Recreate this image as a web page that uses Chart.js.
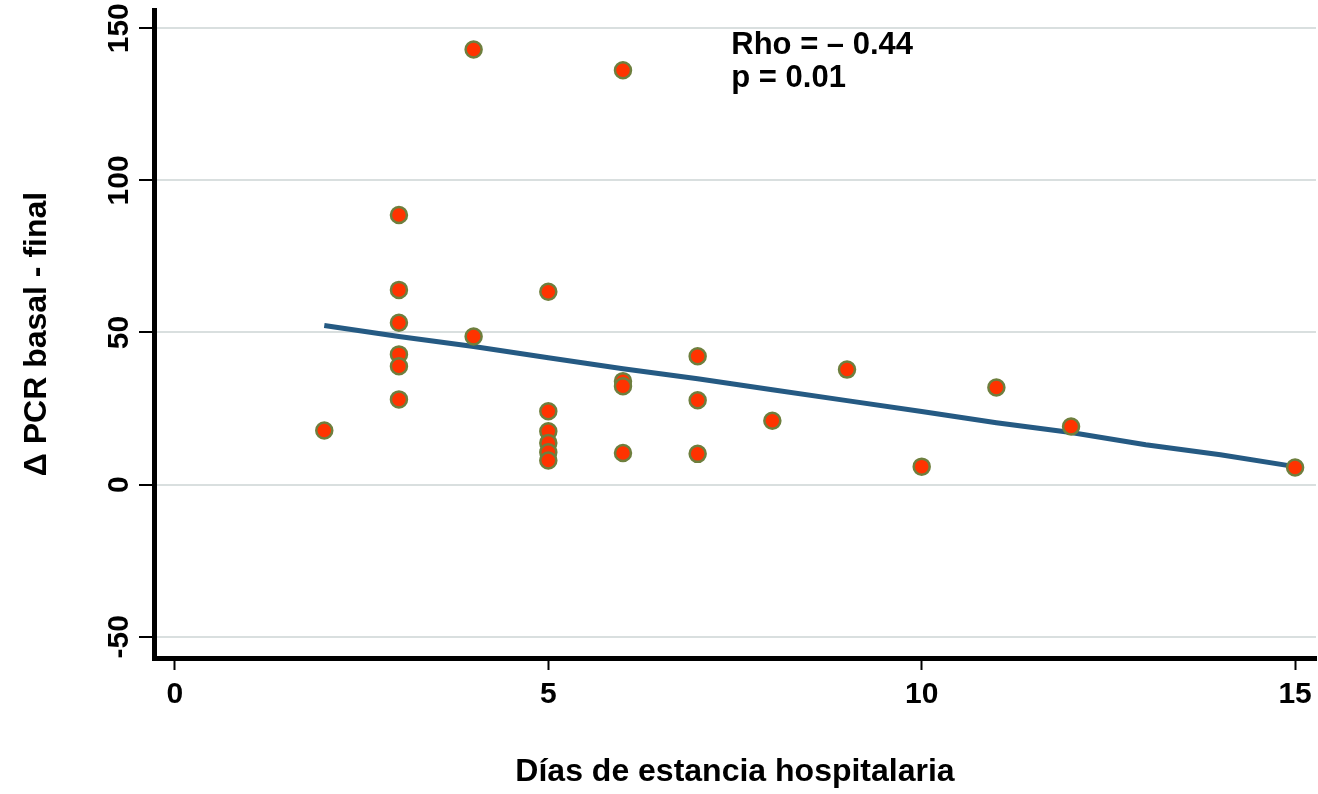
<!DOCTYPE html>
<html>
<head>
<meta charset="utf-8">
<script src="https://cdn.jsdelivr.net/npm/chart.js@4.4.1/dist/chart.umd.min.js"></script>
<style>
  html, body { margin: 0; padding: 0; background: #fff; }
  canvas { display: block; }
</style>
</head>
<body>
<canvas id="grafico" width="1318" height="794"></canvas>
<script>
// Días de estancia y caída de PCR (basal - final) por paciente
const dias = [2, 3, 3, 3, 3, 3, 3, 4, 4, 5, 5, 5, 5, 5, 5, 6, 6, 6, 6, 7, 7, 7, 8, 9, 10, 11, 12, 15];
const deltaPCR = [17.8, 88.6, 64.0, 53.2, 42.8, 38.9, 28.0, 143.0, 48.7, 63.4, 24.1, 17.5, 13.7, 10.6, 7.9,
                  136.2, 34.0, 32.3, 10.4, 42.2, 27.7, 10.1, 21.0, 37.8, 5.9, 31.9, 19.1, 5.6];

// Curva suavizada
const diasAjuste = [2, 3, 4, 5, 6, 7, 8, 9, 10, 11, 12, 13, 14, 15];
const ajuste = [52.3, 48.7, 45.4, 41.7, 38.1, 34.8, 31.2, 27.6, 24.0, 20.3, 17.1, 13.1, 9.8, 5.9];

const ticksX = [0, 5, 10, 15];
const ticksY = [-50, 0, 50, 100, 150];

const textoRho = 'Rho = \u2013 0.44';
const textoP = 'p = 0.01';

const fuente = '"Liberation Sans", Arial, Helvetica, sans-serif';

// etiquetas del eje Y giradas 90°
const etiquetasY = {
  id: 'etiquetasY',
  afterDraw(chart) {
    const { ctx, scales: { y } } = chart;
    ctx.save();
    ctx.font = 'bold 30px ' + fuente;
    ctx.fillStyle = '#000';
    ctx.textAlign = 'center';
    ctx.textBaseline = 'alphabetic';
    y.ticks.forEach(t => {
      ctx.save();
      ctx.translate(chart.chartArea.left - 26, y.getPixelForValue(t.value));
      ctx.rotate(-Math.PI / 2);
      ctx.fillText(String(t.value), 0, 0);
      ctx.restore();
    });
    ctx.restore();
  }
};

// Rho y p arriba del gráfico
const anotacion = {
  id: 'anotacion',
  afterDraw(chart) {
    const { ctx, scales: { x, y } } = chart;
    const px = x.getPixelForValue(7.45);
    const py = y.getPixelForValue(141.5);
    ctx.save();
    ctx.font = 'bold 31px ' + fuente;
    ctx.fillStyle = '#000';
    ctx.textAlign = 'left';
    ctx.textBaseline = 'alphabetic';
    ctx.fillText(textoRho, px, py);
    ctx.fillText(textoP, px, py + 33);
    ctx.restore();
  }
};

new Chart(document.getElementById('grafico'), {
  type: 'scatter',
  data: {
    datasets: [
      {
        data: dias.map((d, i) => ({ x: d, y: deltaPCR[i] })),
        pointRadius: 8,
        pointHoverRadius: 8,
        pointBackgroundColor: '#ff3300',
        pointBorderColor: '#6e7f3e',
        pointBorderWidth: 2.5
      },
      {
        type: 'line',
        data: diasAjuste.map((d, i) => ({ x: d, y: ajuste[i] })),
        borderColor: '#255a83',
        borderWidth: 5,
        pointRadius: 0,
        fill: false,
        tension: 0
      }
    ]
  },
  options: {
    responsive: false,
    animation: false,
    layout: { autoPadding: false, padding: { top: 10, right: 2 } },
    plugins: {
      legend: { display: false },
      tooltip: { enabled: false }
    },
    scales: {
      x: {
        type: 'linear',
        min: -0.28,
        max: 15.28,
        afterBuildTicks: s => { s.ticks = ticksX.map(v => ({ value: v })); },
        afterFit: s => { s.height = 136; s.paddingRight = 0; },
        border: { color: '#000', width: 5 },
        grid: { drawOnChartArea: false, drawTicks: true, tickLength: 12, tickColor: '#000', tickWidth: 2 },
        ticks: { color: '#000', padding: 7, maxRotation: 0, font: { family: fuente, size: 30, weight: 'bold' } },
        title: {
          display: true,
          text: 'Días de estancia hospitalaria',
          color: '#000',
          font: { family: fuente, size: 32, weight: 'bold' },
          padding: { top: 0, bottom: 3 }
        }
      },
      y: {
        type: 'linear',
        min: -57,
        max: 156,
        afterBuildTicks: s => { s.ticks = ticksY.map(v => ({ value: v })); },
        afterFit: s => { s.width = 154; },
        border: { color: '#000', width: 5 },
        grid: { color: '#d9dfdf', lineWidth: 2, tickColor: '#000', tickWidth: 2, tickLength: 15 },
        ticks: { display: false },
        title: {
          display: true,
          text: 'Δ PCR basal - final',
          color: '#000',
          font: { family: fuente, size: 32, weight: 'bold' },
          padding: { top: 18, bottom: 0 }
        }
      }
    }
  },
  plugins: [etiquetasY, anotacion]
});
</script>
</body>
</html>
